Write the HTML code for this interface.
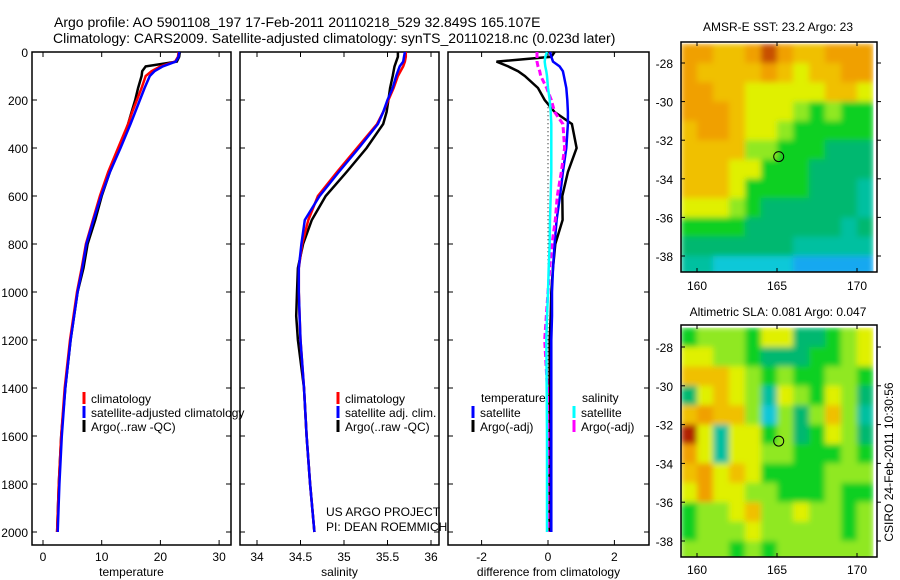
<!DOCTYPE html>
<html><head><meta charset="utf-8"><style>
body{margin:0;background:#fff;}
svg{display:block;font-family:"Liberation Sans",sans-serif;}
text{fill:#000;}
</style></head><body>
<svg id="fig" width="900" height="580" viewBox="0 0 900 580">
<defs><filter id="smooth" x="0" y="0" width="1" height="1"><feGaussianBlur stdDeviation="3" edgeMode="duplicate"/></filter></defs>
<text x="54" y="27" font-size="14">Argo profile: AO 5901108_197 17-Feb-2011 20110218_529 32.849S 165.107E</text>
<text x="53" y="43" font-size="14">Climatology: CARS2009. Satellite-adjusted climatology: synTS_20110218.nc (0.023d later)</text>
<text x="778" y="31" font-size="12" text-anchor="middle">AMSR-E SST: 23.2 Argo: 23</text>
<text x="778" y="316" font-size="12" text-anchor="middle">Altimetric SLA: 0.081 Argo: 0.047</text>
<text x="0" y="0" font-size="12" text-anchor="middle" transform="translate(893,462) rotate(-90)">CSIRO 24-Feb-2011 10:30:56</text>
<text x="326" y="516" font-size="12">US ARGO PROJECT</text>
<text x="326" y="531" font-size="12">PI: DEAN ROEMMICH</text>
</svg>
<script>
// ---- data ----
const depths = [0,20,40,60,80,100,150,200,250,300,400,500,600,700,800,900,1000,1100,1200,1400,1600,1800,2000];
const tempClim = [23.1,23.0,22.5,20.0,18.5,17.5,16.8,16.0,15.2,14.5,12.8,11.1,9.7,8.5,7.3,6.6,5.8,5.2,4.6,3.7,3.1,2.7,2.4];
const tempSat  = [23.2,23.1,22.6,20.4,19.0,18.2,17.3,16.5,15.7,14.9,13.2,11.4,9.9,8.6,7.4,6.7,5.9,5.3,4.7,3.8,3.2,2.8,2.5];
const tempArgo = [23.3,23.2,22.8,17.5,16.9,16.8,16.2,15.7,15.1,14.5,13.1,11.4,10.0,8.9,7.6,6.9,5.9,5.3,4.7,3.8,3.1,2.7,2.4];
const salClim = [35.71,35.71,35.70,35.68,35.65,35.62,35.57,35.51,35.45,35.38,35.15,34.92,34.70,34.59,34.52,34.48,34.48,34.49,34.50,34.54,34.57,34.61,34.66];
const salSat  = [35.70,35.69,35.68,35.64,35.62,35.60,35.56,35.50,35.45,35.39,35.17,34.94,34.72,34.55,34.51,34.48,34.48,34.49,34.50,34.54,34.57,34.61,34.66];
const salArgo = [35.62,35.62,35.60,35.58,35.57,35.56,35.53,35.51,35.49,35.45,35.26,35.03,34.79,34.63,34.53,34.47,34.46,34.45,34.47,34.54,34.57,34.61,34.66];
const dTempSat  = [0.06,0.1,0.15,0.35,0.45,0.48,0.55,0.58,0.6,0.6,0.55,0.45,0.36,0.26,0.2,0.15,0.12,0.12,0.1,0.1,0.1,0.1,0.1];
const dTempArgo = [0.2,0.1,-1.55,-1.2,-0.9,-0.7,-0.3,-0.1,0.2,0.72,0.86,0.6,0.43,0.44,0.22,0.15,0.1,0.08,0.05,0.05,0.05,0.05,0.05];
const dSalArgo  = [-0.33,-0.33,-0.33,-0.3,-0.25,-0.22,-0.04,0.1,0.2,0.45,0.5,0.4,0.28,0.22,0.12,0.05,0.0,-0.05,-0.1,-0.02,0.0,0.0,0.0];
const dSalSat   = [-0.03,-0.08,-0.1,-0.08,-0.05,-0.03,0.0,0.05,0.08,0.1,0.1,0.1,0.08,0.06,0.05,0.02,0.0,-0.03,-0.05,-0.04,-0.03,-0.03,-0.03];
const depthTicks = [0,200,400,600,800,1000,1200,1400,1600,1800,2000];
const tempTicks = [0,10,20,30];
const salTicks = [34,34.5,35,35.5,36];
const diffTicks = [-2,0,2];
const lonTicks = [160,165,170];
const latTicks = [-28,-30,-32,-34,-36,-38];
const sstGrid = [
[9,9,8,8,9,10,9,8,8,9,9,9],
[9,8,8,8,8,9,8,7,8,8,9,9],
[9,9,8,8,7,7,7,7,7,8,8,7],
[9,9,9,8,7,7,7,6,5,6,5,5],
[8,9,9,8,7,7,6,5,5,5,5,5],
[8,8,8,8,6,6,5,5,5,4,4,4],
[8,8,8,7,7,5,5,5,4,4,4,4],
[8,8,8,7,5,5,5,5,4,4,4,3],
[7,7,7,6,5,4,4,4,4,4,4,3],
[5,5,5,5,4,4,4,4,4,4,3,4],
[4,4,4,4,4,4,4,3,3,3,3,3],
[3,3,2,2,2,2,2,1,1,1,1,1]];
const slaGrid = [
[5,6,6,6,5,7,7,4,4,5,6,7],
[7,7,6,6,5,4,4,4,5,5,6,7],
[8,8,8,7,6,5,6,5,5,6,6,5],
[4,7,8,7,6,3,7,6,5,7,6,4],
[8,9,8,8,6,2,6,4,6,8,6,3],
[10,7,3,7,7,5,6,4,5,7,6,4],
[9,7,3,7,7,6,6,5,5,5,6,5],
[8,9,7,8,7,5,5,5,5,6,6,6],
[7,9,7,7,6,6,5,5,5,6,5,5],
[5,6,6,7,8,6,6,7,6,6,5,6],
[5,6,6,6,7,6,6,6,6,6,5,6],
[6,6,6,5,6,5,6,6,6,6,6,6]];
const argoLon = 165.107, argoLat = -32.849;
const cmap = ['#1e88ff','#18a8f0','#10c8d8','#00c0a0','#00b870','#10d020','#90e820','#e0f000','#f0c000','#f0a000','#c85000'];
const cmap2 = cmap.slice(0,10).concat(['#b02000']);

// ---- helpers ----
const NS='http://www.w3.org/2000/svg', svg=document.getElementById('fig');
function mk(tag,attrs,parent){const e=document.createElementNS(NS,tag);for(const k in attrs)e.setAttribute(k,attrs[k]);(parent||svg).appendChild(e);return e;}
const PT=52, PB=545;
const yD = d => 52 + d*480/2000;
function panel(name,x0,x1,xs,ticks,label,showY){
  const g=mk('g',{});
  
  
  mk('rect',{x:x0,y:PT,width:x1-x0,height:PB-PT,fill:'none',stroke:'#000','stroke-width':1.5},g);
  ticks.forEach(t=>{const x=xs(t);
    mk('line',{x1:x,x2:x,y1:PT,y2:PT+5,stroke:'#000'},g);
    mk('line',{x1:x,x2:x,y1:PB,y2:PB-5,stroke:'#000'},g);
    const tx=mk('text',{x:x,y:561,'font-size':12,'text-anchor':'middle'},g);tx.textContent=t;
    
    });
  depthTicks.forEach(d=>{const y=yD(d);
    mk('line',{x1:x0,x2:x0+5,y1:y,y2:y,stroke:'#000'},g);
    mk('line',{x1:x1,x2:x1-5,y1:y,y2:y,stroke:'#000'},g);
    if(showY){const tx=mk('text',{x:28,y:y+5,'font-size':12,'text-anchor':'end'},g);tx.textContent=d;
      
      }});
  const t=mk('text',{x:(x0+x1)/2,y:576,'font-size':12,'text-anchor':'middle'},g);t.textContent=label;
  
  
  return g;
}
function line(vals,xs,color,w,name,dash){
  const pts=vals.map((v,i)=>xs(v).toFixed(1)+','+yD(depths[i]).toFixed(1)).join(' ');
  const p=mk('polyline',{points:pts,fill:'none',stroke:color,'stroke-width':w});
  if(dash)p.setAttribute('stroke-dasharray',dash);
  
  
}
function legend(x,y,color,label,name){
  mk('rect',{x:x-1.5,y:y-6,width:3,height:12,fill:color});
  const t=mk('text',{x:x+7,y:y+5,'font-size':12});t.textContent=label;
  
  
}
// panel 1
const xT = v => 43 + v*5.87;
panel('temperature-panel',32,231,xT,tempTicks,'temperature',true);
line(tempArgo,xT,'#000',2.5,'temp-argo-line');
line(tempClim,xT,'#f00',2.5,'temp-clim-line');
line(tempSat,xT,'#00f',2.5,'temp-sat-line');
legend(84,398,'#f00','climatology','legend-climatology');
legend(84,412,'#00f','satellite-adjusted climatology','legend-satellite-adjusted');
legend(84,426,'#000','Argo(..raw -QC)','legend-argo');
// panel 2
const xS = v => 257 + (v-34)*87;
panel('salinity-panel',240,439,xS,salTicks,'salinity',false);
line(salArgo,xS,'#000',2.5,'sal-argo-line');
line(salClim,xS,'#f00',2.5,'sal-clim-line');
line(salSat,xS,'#00f',2.5,'sal-sat-line');
legend(338,398,'#f00','climatology','legend-sal-climatology');
legend(338,412,'#00f','satellite adj. clim.','legend-sal-satellite');
legend(338,426,'#000','Argo(..raw -QC)','legend-sal-argo');
// panel 3
const xDf = v => 548 + v*33.2;
panel('difference-panel',448,649,xDf,diffTicks,'difference from climatology',false);
mk('line',{x1:xDf(0),x2:xDf(0),y1:yD(230),y2:yD(2000),stroke:'#000','stroke-dasharray':'1,3'});
line(dTempArgo,xDf,'#000',2.5,'diff-temp-argo-line');
line(dTempSat,xDf,'#00f',2.5,'diff-temp-sat-line');
line(dSalArgo,xDf,'#f0f',3,'diff-sal-argo-line','6,3');
line(dSalSat,xDf,'#0ff',2.5,'diff-sal-sat-line');
const tt=mk('text',{x:481,y:402,'font-size':12});tt.textContent='temperature';


const ts=mk('text',{x:582,y:402,'font-size':12});ts.textContent='salinity';


legend(473,412,'#00f','satellite','legend-diff-temp-sat');
legend(473,426,'#000','Argo(-adj)','legend-diff-temp-argo');
legend(574,412,'#0ff','satellite','legend-diff-sal-sat');
legend(574,426,'#f0f','Argo(-adj)','legend-diff-sal-argo');
// maps
function map(name,grid,colors,x0,x1,y0,y1,lat28y,lat38y,lonLabelY){
  const lonX = v => 697 + (v-160)*16;
  const latY = v => lat28y + (-28 - v)*(lat38y-lat28y)/10;
  const g=mk('g',{});
  
  
  const clipId=name+'-clip';
  const cp=mk('clipPath',{id:clipId},g);
  mk('rect',{x:x0,y:y0,width:x1-x0,height:y1-y0},cp);
  const outer=mk('g',{'clip-path':'url(#'+clipId+')'},g);
  const cells=mk('g',{filter:'url(#smooth)'},outer);
  grid.forEach((row,r)=>row.forEach((v,c)=>{
    const lx=lonX(159+c), ly=latY(-27-r);
    const rc=mk('rect',{x:lx,y:ly,width:lonX(160+c)-lx+0.5,height:latY(-28-r)-ly+0.5,fill:colors[v]},cells);
    
    
  }));
  mk('rect',{x:x0,y:y0,width:x1-x0,height:y1-y0,fill:'none',stroke:'#000','stroke-width':1.5},g);
  lonTicks.forEach(l=>{const x=lonX(l);
    mk('line',{x1:x,x2:x,y1:y0,y2:y0+4,stroke:'#000'},g);
    mk('line',{x1:x,x2:x,y1:y1,y2:y1-4,stroke:'#000'},g);
    const t=mk('text',{x:x,y:lonLabelY,'font-size':12,'text-anchor':'middle'},g);t.textContent=l;
    
    });
  latTicks.forEach(l=>{const y=latY(l);
    mk('line',{x1:x0,x2:x0+4,y1:y,y2:y,stroke:'#000'},g);
    mk('line',{x1:x1,x2:x1+4,y1:y,y2:y,stroke:'#000'},g);
    const t=mk('text',{x:673,y:y+5,'font-size':12,'text-anchor':'end'},g);t.textContent=l;
    
    });
  const c=mk('circle',{cx:lonX(argoLon),cy:latY(argoLat),r:5,fill:'none',stroke:'#000','stroke-width':1},g);
  
  
}
map('sst-map',sstGrid,cmap,681,877,42,272,63,256,290);
map('sla-map',slaGrid,cmap2,681,877,325,557,347,541,574);
</script>
</body></html>
